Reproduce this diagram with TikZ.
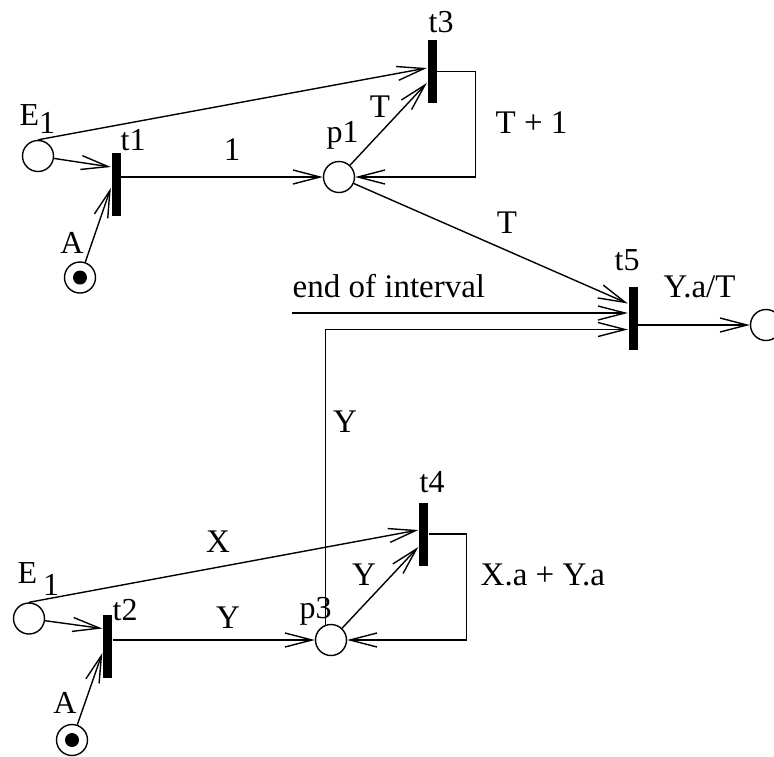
\documentclass[tikz,border=0pt]{standalone}
\usepackage{fontspec}
\setmainfont{Liberation Serif}
\usetikzlibrary{arrows.meta,calc}
\begin{document}
\begin{tikzpicture}[x=1pt,y=-1pt,
  line width=1.4pt,
  place/.style={circle,draw,minimum size=31pt,inner sep=0pt},
  bar/.style={rectangle,fill=black,draw=none,minimum width=9pt,minimum height=63pt,inner sep=0pt},
  arr/.style={-{Straight Barb[length=27pt,width=14pt,line width=1.4pt]}},
  nlab/.style={font=\fontsize{32}{32}\selectfont,inner sep=0pt},
  alab/.style={font=\fontsize{33}{33}\selectfont,inner sep=0pt},
]
\useasboundingbox (0,0) rectangle (774,756);
\clip (0,0) rectangle (774,756);

% places and transitions
\node[place] (E1t) at (38,156) {};
\node[bar] (t1) at (116,184) {};
\node[place] (At) at (80,277.5) {};
\fill (At) circle (7pt);
\node[place] (p1) at (339,177) {};
\node[bar] (t3) at (432,71.5) {};
\node[bar] (t5) at (633,318) {};
\node[place] (out) at (766,325) {};
\node[place] (E1b) at (29,618.5) {};
\node[bar] (t2) at (107.5,646) {};
\node[place] (Ab) at (72,740) {};
\fill (Ab) circle (7pt);
\node[bar] (t4) at (423.5,534) {};
\node[place] (p3) at (331,640) {};
\coordinate (eoi) at (292,313);

% top arcs
\draw[arr] (E1t) -- ($(t1.west)+(0,-17)$);
\draw[arr] (E1t.north) -- ($(t3.west)+(0,-3.5)$);
\draw[arr] (At) -- ($(t1.west)+(0,4)$);
\draw[arr] (t1.east |- p1) -- (p1);
\draw[arr] (p1) -- ($(t3.west)+(0,11.5)$);
\draw[arr] (t3.east) -- ++(38,0) |- (p1);
\draw[arr] (p1) -- ($(t5.west)+(0,-14.5)$);
\draw[arr] (eoi) -- (eoi -| t5.west);
\draw[arr] (p3.110) |- ($(t5.west)+(0,11.5)$);
\draw[arr] (t5.east |- out) -- (out);

% bottom arcs
\draw[arr] (E1b) -- ($(t2.west)+(0,-17.5)$);
\draw[arr] (E1b.north) -- ($(t4.west)+(0,-4)$);
\draw[arr] (Ab) -- ($(t2.west)+(0,7)$);
\draw[arr] (t2.east |- p3) -- (p3);
\draw[arr] (p3) -- ($(t4.west)+(0,13)$);
\draw[arr] (t4.east) -- ++(38,0) |- (p3);

% node labels
\node[nlab,anchor=base west] (lE1t) at (19,125) {E\kern0pt\raisebox{-8pt}{1}};
\node[nlab,anchor=base west] (lt1) at (120,150) {t1};
\node[nlab,anchor=base] (lAt) at (72,253) {A};
\node[nlab,anchor=base west] (lp1) at (326,142) {p1};
\node[nlab,anchor=base west] (lt3) at (428,32) {t3};
\node[nlab,anchor=base west] (lt5) at (614,270) {t5};
\node[nlab,anchor=base west] (lE1b) at (17,583) {E\kern6pt\raisebox{-12pt}{1}};
\node[nlab,anchor=base west] (lt2) at (112,620) {t2};
\node[nlab,anchor=base] (lAb) at (65,713) {A};
\node[nlab,anchor=base west] (lt4) at (419,492) {t4};
\node[nlab,anchor=base west] (lp3) at (299,618) {p3};

% arc labels
\node[alab,anchor=base] (l1) at (232,160) {1};
\node[alab,anchor=base] (lT1) at (380,117) {T};
\node[alab,anchor=base west] (lT2) at (495,133) {T + 1};
\node[alab,anchor=base] (lT3) at (507,233) {T};
\node[alab,anchor=base west] (leoi) at (292,297) {end of interval};
\node[alab,anchor=base west] (lYaT) at (663,297) {Y.a/T};
\node[alab,anchor=base] (lY1) at (345,432) {Y};
\node[alab,anchor=base] (lX) at (218,552) {X};
\node[alab,anchor=base] (lY2) at (228,628) {Y};
\node[alab,anchor=base] (lY3) at (364,585) {Y};
\node[alab,anchor=base west] (lXY) at (480,585) {X.a + Y.a};
\end{tikzpicture}
\end{document}
